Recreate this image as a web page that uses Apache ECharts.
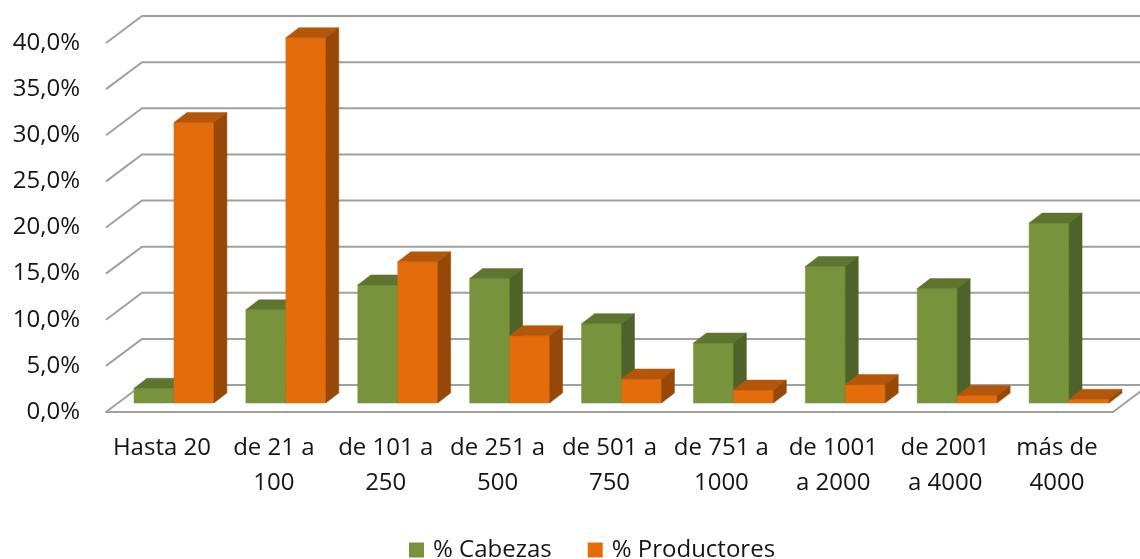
<!DOCTYPE html>
<html>
<head>
<meta charset="utf-8">
<script src="https://cdn.jsdelivr.net/npm/echarts@6/dist/echarts.min.js"></script>
<style>html,body{margin:0;padding:0;background:#fff;}#c{width:1140px;height:559px;}</style>
</head>
<body>
<div id="c"></div>
<script>
const categories = ['Hasta 20', 'de 21 a\n100', 'de 101 a\n250', 'de 251 a\n500', 'de 501 a\n750', 'de 751 a\n1000', 'de 1001\na 2000', 'de 2001\na 4000', 'más de\n4000'];
const cabezas = [1.6, 10.1, 12.8, 13.5, 8.6, 6.5, 14.8, 12.4, 19.5];
const productores = [30.4, 39.6, 15.3, 7.3, 2.6, 1.4, 2.0, 0.8, 0.4];
const yTicks = [0, 5, 10, 15, 20, 25, 30, 35, 40];

const DEPTH = [36, -27];      // front plane -> back wall
const BAR_OFF = [12, -9];     // front plane -> bar front face
const BAR_DEPTH = [13, -10];  // bar thickness
const GRID_COLOR = '#a0a0a0';
const FONT = '"Open Sans", "Noto Sans", sans-serif';
const TEXT_COLOR = '#151515';

function gridRender(params, api) {
  const cs = params.coordSys;
  const v = api.value(1);
  const y = api.coord([0, v])[1];
  const x0 = cs.x, x1 = cs.x + cs.width;
  const children = [{
    type: 'polyline',
    shape: { points: [[x0, y], [x0 + DEPTH[0], y + DEPTH[1]], [x1 + DEPTH[0] + 40, y + DEPTH[1]]] },
    style: { stroke: GRID_COLOR, lineWidth: 2, fill: null }
  }];
  if (v === 0) {
    children.push({
      type: 'line',
      shape: { x1: x1, y1: y, x2: x1 + DEPTH[0], y2: y + DEPTH[1] },
      style: { stroke: GRID_COLOR, lineWidth: 2 }
    });
  }
  return { type: 'group', children: children };
}

function makeBarRender(side, cFront, cTop, cSide) {
  return function (params, api) {
    const i = api.value(0), v = api.value(1);
    const base = api.coord([i, 0]);
    const top = api.coord([i, v]);
    const band = api.size([1, 0])[0];
    const w = band * 0.357;
    const cx = base[0] + BAR_OFF[0];
    const xa = side === 0 ? cx - w : cx;
    const xb = xa + w;
    const yb = base[1] + BAR_OFF[1];
    const yt = top[1] + BAR_OFF[1];
    const dx = BAR_DEPTH[0], dy = BAR_DEPTH[1];
    return {
      type: 'group',
      children: [
        { type: 'polygon', shape: { points: [[xa, yb], [xb, yb], [xb, yt], [xa, yt]] }, style: { fill: cFront, stroke: cFront, lineWidth: 0.5 } },
        { type: 'polygon', shape: { points: [[xa, yt], [xb, yt], [xb + dx, yt + dy], [xa + dx, yt + dy]] }, style: { fill: cTop, stroke: cTop, lineWidth: 0.5 } },
        { type: 'polygon', shape: { points: [[xb, yb], [xb + dx, yb + dy], [xb + dx, yt + dy], [xb, yt]] }, style: { fill: cSide, stroke: cSide, lineWidth: 0.5 } }
      ]
    };
  };
}

const chart = echarts.init(document.getElementById('c'), null, { renderer: 'canvas' });
chart.setOption({
  animation: false,
  backgroundColor: '#fff',
  grid: { left: 106, right: 27, top: 43, bottom: 147 },
  xAxis: {
    type: 'category',
    data: categories,
    axisLine: { show: true, lineStyle: { color: GRID_COLOR, width: 2 } },
    axisTick: { show: false },
    axisLabel: { interval: 0, fontSize: 24, lineHeight: 35, margin: 19, color: TEXT_COLOR, fontFamily: FONT }
  },
  yAxis: {
    type: 'value', min: 0, max: 40, interval: 5,
    axisLine: { show: false }, axisTick: { show: false }, splitLine: { show: false },
    axisLabel: {
      fontSize: 24, margin: 26, color: TEXT_COLOR, fontFamily: FONT,
      formatter: function (v) { return v.toFixed(1).replace('.', ',') + '%'; }
    }
  },
  legend: {
    left: 404, top: 533, itemWidth: 15, itemHeight: 15, itemGap: 36, icon: 'rect',
    textStyle: { fontSize: 24, color: TEXT_COLOR, fontFamily: FONT, padding: [0, 0, 0, 4] },
    data: ['% Cabezas', '% Productores']
  },
  series: [
    { type: 'custom', name: 'grid', renderItem: gridRender, data: yTicks.map(function (v) { return [0, v]; }), silent: true, z: 1 },
    { type: 'custom', name: '% Cabezas', itemStyle: { color: '#77933C' }, renderItem: makeBarRender(0, '#77933C', '#5E7530', '#4F6228'), data: cabezas.map(function (v, i) { return [i, v]; }), z: 2 },
    { type: 'custom', name: '% Productores', itemStyle: { color: '#E46C0A' }, renderItem: makeBarRender(1, '#E46C0A', '#B4570A', '#974806'), data: productores.map(function (v, i) { return [i, v]; }), z: 3 }
  ]
});
</script>
</body>
</html>
